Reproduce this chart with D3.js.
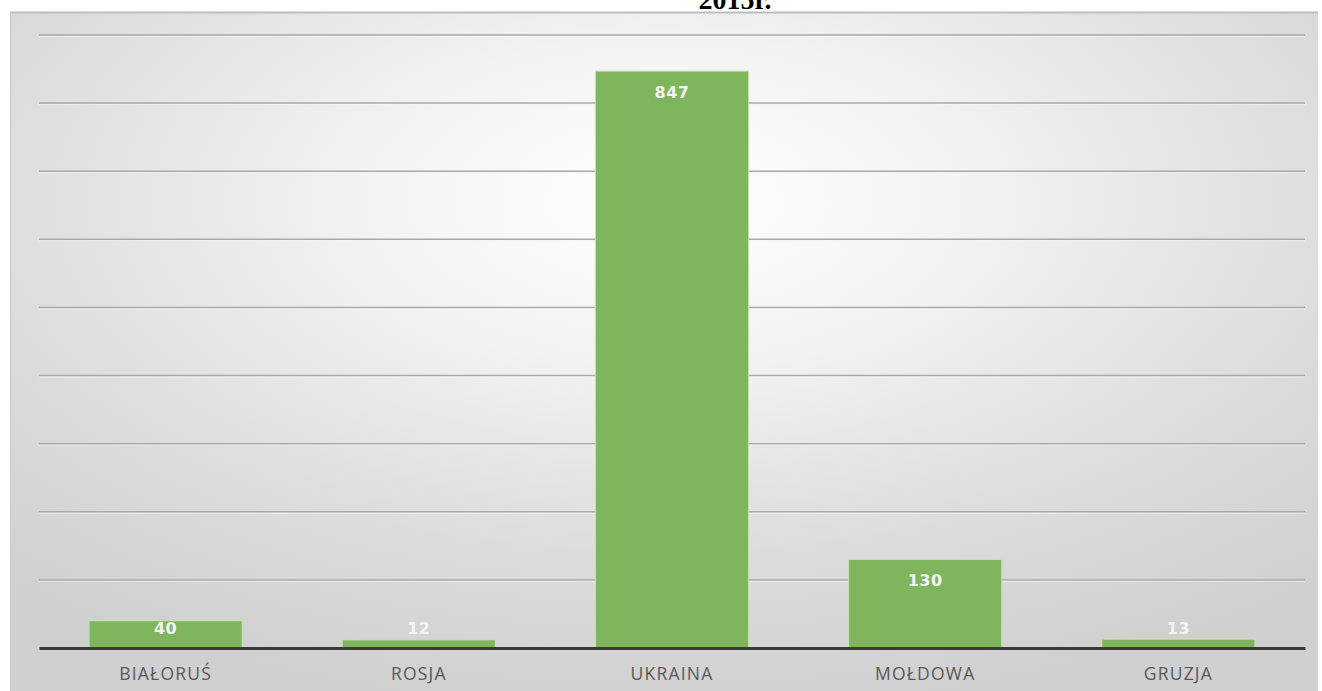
<!DOCTYPE html>
<html>
<head>
<meta charset="utf-8">
<script src="https://cdn.jsdelivr.net/npm/d3@7"></script>
<style>
  html, body { margin: 0; padding: 0; background: #ffffff; }
  svg { display: block; }
</style>
</head>
<body>
<svg id="chart" width="1322" height="691"></svg>
<script>
const categories = ["BIAŁORUŚ", "ROSJA", "UKRAINA", "MOŁDOWA", "GRUZJA"];
const values = [40, 12, 847, 130, 13];
const yTicks = [0, 100, 200, 300, 400, 500, 600, 700, 800, 900];
const titleText = "2015r.";

const svg = d3.select("#chart");

const defs = svg.append("defs");
const grad = defs.append("radialGradient")
  .attr("id", "bg").attr("cx", "50%").attr("cy", "28%").attr("r", "75%")
  .attr("fx", "50%").attr("fy", "28%");
grad.append("stop").attr("offset", "0%").attr("stop-color", "#ffffff");
grad.append("stop").attr("offset", "30%").attr("stop-color", "#f3f3f3");
grad.append("stop").attr("offset", "70%").attr("stop-color", "#dcdcdc");
grad.append("stop").attr("offset", "100%").attr("stop-color", "#d0d0d0");

// title (partly cropped at top, as in the reference)
svg.append("text")
  .attr("x", 735).attr("y", 9)
  .attr("text-anchor", "middle")
  .attr("font-family", "'Liberation Serif', 'Times New Roman', serif")
  .attr("font-weight", "bold")
  .attr("font-size", 28)
  .attr("fill", "#000")
  .text(titleText);

// panel
svg.append("rect")
  .attr("x", 10).attr("y", 12).attr("width", 1308).attr("height", 679)
  .attr("fill", "url(#bg)");
svg.append("line")
  .attr("x1", 10).attr("x2", 1318).attr("y1", 12.5).attr("y2", 12.5)
  .attr("stroke", "#bdbdbd").attr("stroke-width", 2);
svg.append("line")
  .attr("x1", 10.5).attr("x2", 10.5).attr("y1", 12).attr("y2", 691)
  .attr("stroke", "#c8c8c8").attr("stroke-width", 1);

const margin = { left: 39, right: 1305, top: 35, bottom: 648 };

const x = d3.scaleBand()
  .domain(categories)
  .range([margin.left, margin.right])
  .paddingInner(0.395).paddingOuter(0.1975);

const y = d3.scaleLinear()
  .domain([0, 900])
  .range([margin.bottom, margin.top]);

// gridlines
const grid = svg.append("g");
yTicks.filter(t => t > 0).forEach(t => {
  grid.append("line")
    .attr("x1", margin.left).attr("x2", margin.right)
    .attr("y1", y(t)).attr("y2", y(t))
    .attr("stroke", "#a9a9a9").attr("stroke-width", 1.5);
  grid.append("line")
    .attr("x1", margin.left).attr("x2", margin.right)
    .attr("y1", y(t) + 1.5).attr("y2", y(t) + 1.5)
    .attr("stroke", "#f5f5f5").attr("stroke-width", 1).attr("opacity", 0.7);
});

// bars
svg.append("g").selectAll("rect")
  .data(values)
  .join("rect")
  .attr("x", (d, i) => x(categories[i]))
  .attr("width", x.bandwidth())
  .attr("y", d => y(d))
  .attr("height", d => y(0) - y(d))
  .attr("fill", "#7fb55c")
  .attr("stroke", "#c9e3b5")
  .attr("stroke-width", 1);

// baseline axis
const xAxis = d3.axisBottom(x).tickSize(0).tickPadding(0);
const axisG = svg.append("g")
  .attr("transform", `translate(0,${y(0)})`)
  .call(xAxis);
axisG.select(".domain")
  .attr("stroke", "#3a3a3a").attr("stroke-width", 3);
axisG.selectAll(".tick text")
  .attr("dy", null)
  .attr("y", 32)
  .attr("font-family", "'Open Sans', 'Noto Sans', sans-serif")
  .attr("font-size", 17.5)
  .attr("letter-spacing", 1.2)
  .attr("fill", "#595959");

// data labels
svg.append("g").selectAll("text")
  .data(values)
  .join("text")
  .attr("x", (d, i) => x(categories[i]) + x.bandwidth() / 2)
  .attr("y", d => Math.min(y(d) + 27, y(0) - 14))
  .attr("text-anchor", "middle")
  .attr("font-family", "'DejaVu Sans', 'Open Sans', sans-serif")
  .attr("font-weight", "bold")
  .attr("font-size", 16)
  .attr("letter-spacing", 0.5)
  .attr("fill", "#f4f4f4")
  .text(d => d);
</script>
</body>
</html>
